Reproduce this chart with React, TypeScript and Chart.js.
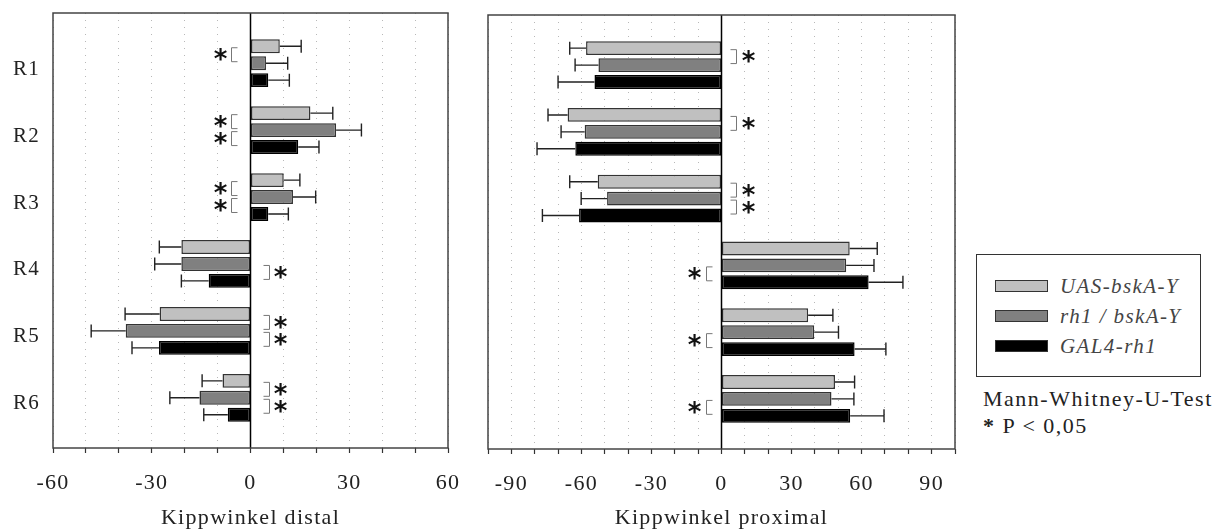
import React, { useEffect, useRef } from 'react';
import { Chart, registerables } from 'chart.js';

Chart.register(...registerables);

// ---------- data ----------
const regions = ['R1', 'R2', 'R3', 'R4', 'R5', 'R6'];
const seriesNames = ['UAS-bskA-Y', 'rh1 / bskA-Y', 'GAL4-rh1'];
const seriesColors = ['#c0c0c0', '#808080', '#000000'];

const distalUAS = [8.9, 18.2, 10.1, -21.0, -27.6, -8.5];
const distalUASErr = [6.5, 6.8, 4.9, 6.7, 10.5, 6.2];
const distalRh1Bsk = [4.7, 26.0, 12.9, -21.0, -37.9, -15.5];
const distalRh1BskErr = [6.6, 7.7, 6.9, 8.1, 10.5, 9.0];
const distalGal4 = [5.4, 14.5, 5.4, -12.7, -27.8, -6.9];
const distalGal4Err = [6.4, 6.3, 6.1, 8.3, 8.2, 7.3];

const proximalUAS = [-58.0, -65.9, -53.0, 54.9, 37.1, 48.6];
const proximalUASErr = [7.0, 8.4, 12.0, 11.8, 10.6, 8.4];
const proximalRh1Bsk = [-52.7, -58.6, -49.0, 53.4, 39.7, 47.1];
const proximalRh1BskErr = [10.0, 10.1, 11.1, 11.9, 10.4, 9.6];
const proximalGal4 = [-54.4, -62.6, -61.0, 63.0, 57.0, 55.1];
const proximalGal4Err = [15.6, 16.4, 15.7, 14.7, 13.4, 14.5];

// significant pairs per region: 0 = series 1 vs 2, 1 = series 2 vs 3
const distalSig = [[0], [0, 1], [0, 1], [1], [0, 1], [0, 1]];
const proximalSig = [[0], [0], [0, 1], [1], [1], [1]];

const distalTicks = [-60, -30, 0, 30, 60];
const proximalTicks = [-90, -60, -30, 0, 30, 60, 90];

const FONT = "'Liberation Serif', 'Times New Roman', serif";

type Spec = {
  values: number[][];
  errors: number[][];
  sig: number[][];
  min: number;
  max: number;
  tickLabels: number[];
  title: string;
  showLabels: boolean;
  pad: { top: number; left: number; right: number };
  axisHeight: number;
  yWidth: number;
  bracketGap: number;
  starGap: number;
};

const spacingPlugin = {
  id: 'spacing',
  beforeDraw(chart: any) {
    chart.ctx.letterSpacing = '1.3px';
  },
};

function annotPlugin(spec: Spec) {
  return {
    id: 'annot',
    afterDatasetsDraw(chart: any) {
      const { ctx, chartArea: a, scales } = chart;
      const xs = scales.x;
      const zero = xs.getPixelForValue(0);
      ctx.save();
      // error bars
      spec.values.forEach((vals, di) => {
        const meta = chart.getDatasetMeta(di);
        vals.forEach((v, j) => {
          const el = meta.data[j];
          const sign = v >= 0 ? 1 : -1;
          const x1 = el.x;
          const x2 = xs.getPixelForValue(v + sign * spec.errors[di][j]);
          ctx.strokeStyle = '#222';
          ctx.lineWidth = 1.4;
          ctx.beginPath();
          ctx.moveTo(x1, el.y);
          ctx.lineTo(x2, el.y);
          ctx.moveTo(x2, el.y - 6.5);
          ctx.lineTo(x2, el.y + 6.5);
          ctx.stroke();
        });
      });
      // zero line
      ctx.strokeStyle = '#000';
      ctx.lineWidth = 1.5;
      ctx.beginPath();
      ctx.moveTo(zero, a.top);
      ctx.lineTo(zero, a.bottom);
      ctx.stroke();
      // frame
      ctx.strokeStyle = '#444';
      ctx.lineWidth = 1.5;
      ctx.strokeRect(a.left, a.top, a.right - a.left, a.bottom - a.top);
      // brackets + stars
      ctx.letterSpacing = '0px';
      ctx.font = "bold 26px 'DejaVu Sans'";
      const m = ctx.measureText('*');
      const asc = m.actualBoundingBoxAscent;
      const desc = m.actualBoundingBoxDescent;
      ctx.textAlign = 'center';
      ctx.textBaseline = 'alphabetic';
      spec.sig.forEach((pairs, j) => {
        const sign = spec.values[0][j] >= 0 ? -1 : 1;
        pairs.forEach((p) => {
          const yA = chart.getDatasetMeta(p).data[j].y + 1.5;
          const yB = chart.getDatasetMeta(p + 1).data[j].y - 1.5;
          const xv = zero + sign * spec.bracketGap;
          const xa = xv - sign * 6;
          ctx.strokeStyle = '#777';
          ctx.lineWidth = 1;
          ctx.beginPath();
          ctx.moveTo(xa, yA);
          ctx.lineTo(xv, yA);
          ctx.lineTo(xv, yB);
          ctx.lineTo(xa, yB);
          ctx.stroke();
          const ym = (yA + yB) / 2;
          ctx.fillStyle = '#111';
          ctx.fillText('*', zero + sign * spec.starGap, ym + (asc - desc) / 2);
        });
      });
      ctx.restore();
    },
  };
}

function Panel({ spec, left, width }: { spec: Spec; left: number; width: number }) {
  const ref = useRef<HTMLCanvasElement>(null);
  useEffect(() => {
    const canvas = ref.current!;
    const chart = new Chart(canvas, {
      type: 'bar',
      data: {
        datasets: spec.values.map((vals, di) => ({
          label: seriesNames[di],
          data: vals.map((v, j) => ({ x: v, y: j })),
          backgroundColor: seriesColors[di],
          borderColor: di === 2 ? '#000' : '#333',
          borderWidth: 1.5,
          borderSkipped: false,
          categoryPercentage: 0.76,
          barPercentage: 0.82,
        })),
      },
      options: {
        indexAxis: 'y',
        responsive: false,
        animation: false,
        devicePixelRatio: 1,
        layout: { padding: { top: spec.pad.top, left: spec.pad.left, right: spec.pad.right, bottom: 0 } },
        plugins: { legend: { display: false }, tooltip: { enabled: false } },
        scales: {
          x: {
            type: 'linear',
            min: spec.min,
            max: spec.max,
            afterFit: (s: any) => {
              s.height = spec.axisHeight;
              s.paddingLeft = 0;
              s.paddingRight = 0;
            },
            ticks: {
              stepSize: 10,
              autoSkip: false,
              maxRotation: 0,
              padding: 17,
              color: '#222',
              font: { family: FONT, size: 22 },
              callback: (v: any) => (spec.tickLabels.includes(Number(v)) ? String(v) : ''),
            },
            grid: {
              color: '#b8b8b8',
              lineWidth: 1,
              drawTicks: true,
              tickLength: 5,
              tickColor: '#333',
              tickWidth: 1.2,
            },
            border: { display: false, dash: [1, 6] },
            title: {
              display: true,
              text: spec.title,
              color: '#222',
              font: { family: FONT, size: 22 },
              padding: { top: 0, bottom: 0 },
            },
          },
          y: {
            type: 'linear',
            reverse: true,
            offset: false,
            min: -0.75,
            max: 5.75,
            display: spec.showLabels,
            afterFit: (s: any) => {
              s.width = spec.yWidth;
              s.paddingTop = 0;
              s.paddingBottom = 0;
            },
            afterBuildTicks: (s: any) => {
              s.ticks = regions.map((_, i) => ({ value: i }));
            },
            ticks: {
              autoSkip: false,
              padding: 13,
              labelOffset: 6,
              color: '#222',
              font: { family: FONT, size: 21 },
              callback: (v: any) => regions[Number(v)] ?? '',
            },
            grid: { display: false, drawTicks: false, offset: false },
            border: { display: false },
          },
        },
      },
      plugins: [spacingPlugin, annotPlugin(spec)],
    } as any);
    return () => chart.destroy();
  }, [spec]);
  return (
    <canvas
      ref={ref}
      width={width}
      height={531}
      style={{ position: 'absolute', left, top: 0, width, height: 531 }}
    />
  );
}

const distalSpec: Spec = {
  values: [distalUAS, distalRh1Bsk, distalGal4],
  errors: [distalUASErr, distalRh1BskErr, distalGal4Err],
  sig: distalSig,
  min: -60,
  max: 60,
  tickLabels: distalTicks,
  title: 'Kippwinkel distal',
  showLabels: true,
  pad: { top: 13, left: 0, right: 22 },
  axisHeight: 83,
  yWidth: 53,
  bracketGap: 19,
  starGap: 30,
};

const proximalSpec: Spec = {
  values: [proximalUAS, proximalRh1Bsk, proximalGal4],
  errors: [proximalUASErr, proximalRh1BskErr, proximalGal4Err],
  sig: proximalSig,
  min: -100,
  max: 100,
  tickLabels: proximalTicks,
  title: 'Kippwinkel proximal',
  showLabels: false,
  pad: { top: 15, left: 18, right: 15 },
  axisHeight: 82,
  yWidth: 0,
  bracketGap: 15,
  starGap: 27,
};

export default function App() {
  const rowTops = [280, 310, 340];
  return (
    <div
      style={{
        position: 'fixed',
        left: 0,
        top: 0,
        width: 1221,
        height: 531,
        background: '#fff',
        overflow: 'hidden',
      }}
    >
      <Panel spec={distalSpec} left={0} width={470} />
      <Panel spec={proximalSpec} left={470} width={500} />
      <div
        style={{
          position: 'absolute',
          left: 976,
          top: 254,
          width: 225,
          height: 123,
          border: '1.5px solid #333',
          boxSizing: 'border-box',
        }}
      />
      {seriesNames.map((name, i) => (
        <React.Fragment key={name}>
          <div
            style={{
              position: 'absolute',
              left: 995,
              top: rowTops[i],
              width: 53,
              height: 12,
              background: seriesColors[i],
              border: '1px solid #333',
              boxSizing: 'border-box',
            }}
          />
          <div
            style={{
              position: 'absolute',
              left: 1060,
              top: rowTops[i] - 9,
              height: 30,
              lineHeight: '30px',
              fontFamily: FONT,
              fontStyle: 'italic',
              fontSize: 21,
              letterSpacing: '1.4px',
              color: '#444',
              whiteSpace: 'nowrap',
            }}
          >
            {name}
          </div>
        </React.Fragment>
      ))}
      <div
        style={{
          position: 'absolute',
          left: 983,
          top: 385,
          fontFamily: FONT,
          fontSize: 22,
          letterSpacing: '1.5px',
          lineHeight: '27px',
          color: '#222',
          whiteSpace: 'nowrap',
        }}
      >
        <div>Mann-Whitney-U-Test</div>
        <div>
          <b>*</b> P &lt; 0,05
        </div>
      </div>
    </div>
  );
}
